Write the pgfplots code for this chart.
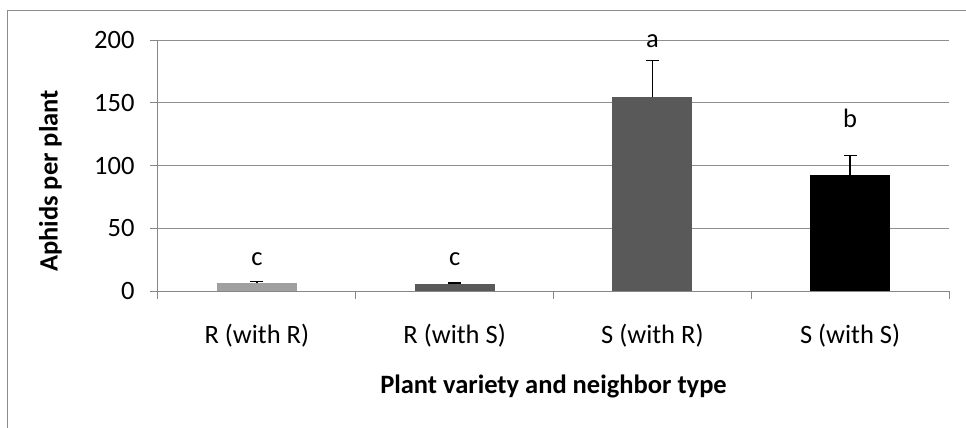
\documentclass[border=0pt]{standalone}
\usepackage{pgfplots}
\pgfplotsset{compat=1.18}
\usepackage{fontspec}
\setmainfont{Carlito}
\definecolor{framegray}{HTML}{8C8C8C}
\definecolor{axisgray}{HTML}{878787}
\definecolor{gridgray}{HTML}{8E8E8E}
\definecolor{barlight}{HTML}{A0A0A0}
\definecolor{bardark}{HTML}{595959}
\begin{document}
\fontsize{26.5pt}{31pt}\selectfont
\begin{tikzpicture}
\useasboundingbox (-158pt,-137pt) rectangle (808pt,291pt);
\draw[framegray, line width=1pt] (-150.5pt,-145pt) -- (-150.5pt,280pt) -- (815pt,280pt);
\begin{axis}[
  at={(0pt,0pt)}, anchor=south west,
  scale only axis, width=791pt, height=251pt,
  xmin=-0.5, xmax=3.5, ymin=0, ymax=200,
  axis x line*=bottom, axis y line*=left,
  axis line style={draw=axisgray, line width=1pt, -},
  ytick={0,50,100,150,200},
  ymajorgrids, grid style={draw=gridgray, line width=1pt},
  xtick={0,1,2,3},
  xticklabels={R (with R), R (with S), S (with R), S (with S)},
  minor xtick={-0.5,0.5,1.5,2.5,3.5},
  tick align=outside, major tick length=7.5pt, minor tick length=7.5pt,
  tick style={draw=axisgray, line width=1pt},
  major x tick style={draw=none},
  /pgf/number format/assume math mode=true,
  ticklabel style={font=\fontsize{26.5pt}{31pt}\selectfont, text=black},
  xticklabel style={anchor=base, yshift=-45pt},
  yticklabel style={anchor=east, xshift=-7pt},
  xlabel={\bfseries Plant variety and neighbor type},
  ylabel={\bfseries Aphids per plant},
  label style={font=\fontsize{26.5pt}{31pt}\selectfont},
  xlabel style={at={(axis description cs:0.5,-0.382)}, anchor=center},
  ylabel style={at={(axis description cs:-0.136,0.438)}, anchor=center},
  clip=false,
  error bars/y dir=plus, error bars/y explicit,
  error bars/error bar style={black, line width=1.5pt},
  error bars/error mark options={black, rotate=90, mark size=6.5pt, line width=1.5pt},
]
\addplot[ybar, bar width=80pt, bar shift=0pt, fill=barlight, draw=none]
  coordinates {(0,6.1) +- (0,1.3)};
\addplot[ybar, bar width=80pt, bar shift=0pt, fill=bardark, draw=none]
  coordinates {(1,5.3) +- (0,0.9)};
\addplot[ybar, bar width=80pt, bar shift=0pt, fill=bardark, draw=none]
  coordinates {(2,154.3) +- (0,29.2)};
\addplot[ybar, bar width=80pt, bar shift=0pt, fill=black, draw=none]
  coordinates {(3,92.4) +- (0,15.4)};
\node[anchor=base] at (axis cs:0,20.7) {c};
\node[anchor=base] at (axis cs:1,20.7) {c};
\node[anchor=base] at (axis cs:2,193.9) {a};
\node[anchor=base] at (axis cs:3,130.1) {b};
\end{axis}
\end{tikzpicture}
\end{document}
